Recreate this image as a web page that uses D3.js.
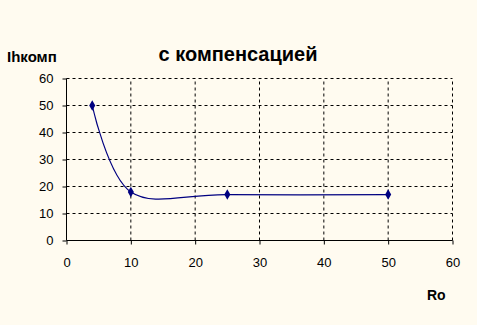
<!DOCTYPE html>
<html>
<head>
<meta charset="utf-8">
<script src="https://cdn.jsdelivr.net/npm/d3@7"></script>
<style>
  body { margin: 0; background: #fffbf0; }
  svg { display: block; }
  text { font-family: Arial, "Liberation Sans", sans-serif; }
</style>
</head>
<body>
<svg id="chart" width="477" height="325"></svg>
<script>
// данные
var ro = [4, 10, 25, 50];
var ihkomp = [50, 18, 17, 17];
var xTicks = [0, 10, 20, 30, 40, 50, 60];
var yTicks = [0, 10, 20, 30, 40, 50, 60];

var svg = d3.select('#chart');
svg.append('rect').attr('width', 477).attr('height', 325).attr('fill', '#fffbf0');

var x = d3.scaleLinear().domain([0, 60]).range([66.5, 452.5]);
var y = d3.scaleLinear().domain([0, 60]).range([240.5, 78.5]);

// сетка
svg.selectAll('.vg').data(xTicks.slice(1)).enter().append('line')
    .attr('x1', function (d) { return x(d); }).attr('x2', function (d) { return x(d); })
    .attr('y1', y(0)).attr('y2', y(60))
    .attr('stroke', '#000').attr('stroke-dasharray', '3,3');
svg.selectAll('.hg').data(yTicks.slice(1)).enter().append('line')
    .attr('x1', x(0)).attr('x2', x(60))
    .attr('y1', function (d) { return y(d); }).attr('y2', function (d) { return y(d); })
    .attr('stroke', '#000').attr('stroke-dasharray', '3,3');

// оси
var xAxis = svg.append('g').attr('transform', 'translate(0,' + y(0) + ')')
    .call(d3.axisBottom(x).tickValues(xTicks).tickSize(4).tickPadding(13));
var yAxis = svg.append('g').attr('transform', 'translate(' + x(0) + ',0)')
    .call(d3.axisLeft(y).tickValues(yTicks).tickSize(4).tickPadding(9));
[xAxis, yAxis].forEach(function (g) {
    g.select('.domain').remove();
    g.selectAll('text').attr('font-size', 13).attr('font-family', 'Arial, "Liberation Sans", sans-serif').attr('fill', '#000');
    g.selectAll('line').attr('stroke', '#000');
});
svg.append('line').attr('x1', x(0)).attr('x2', x(60)).attr('y1', y(0)).attr('y2', y(0)).attr('stroke', '#000');
svg.append('line').attr('x1', x(0)).attr('x2', x(0)).attr('y1', y(0)).attr('y2', y(60)).attr('stroke', '#000');

// сглаженная линия
var pts = ro.map(function (d, i) { return [d, ihkomp[i]]; });
var line = d3.line()
    .x(function (d) { return x(d[0]); })
    .y(function (d) { return y(d[1]); })
    .curve(d3.curveCardinal.tension(0));
svg.append('path').datum(pts).attr('d', line)
    .attr('fill', 'none').attr('stroke', '#000080').attr('stroke-width', 1.2);

svg.selectAll('.pt').data(pts).enter().append('path')
    .attr('d', d3.symbol().type(d3.symbolDiamond).size(32))
    .attr('transform', function (d) { return 'translate(' + x(d[0]) + ',' + y(d[1]) + ')'; })
    .attr('fill', '#000080');

// подписи
svg.append('text').attr('x', 238).attr('y', 61).attr('text-anchor', 'middle')
    .attr('font-size', 20).attr('font-weight', 'bold').text('с компенсацией');
svg.append('text').attr('x', 7).attr('y', 62)
    .attr('font-size', 15).attr('font-weight', 'bold').text('Ihкомп');
svg.append('text').attr('x', 427).attr('y', 300)
    .attr('font-size', 14).attr('font-weight', 'bold').text('Ro');
</script>
</body>
</html>
